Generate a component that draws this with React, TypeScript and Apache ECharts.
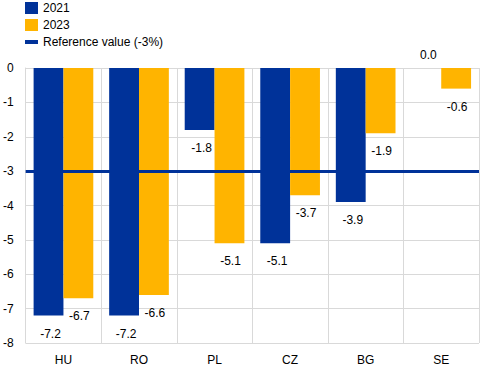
import React, { useEffect, useRef } from "react";
import * as echarts from "echarts";

const categories = ["HU", "RO", "PL", "CZ", "BG", "SE"];
const values2021 = [-7.2, -7.2, -1.8, -5.1, -3.9, 0.0];
const values2023 = [-6.7, -6.6, -5.1, -3.7, -1.9, -0.6];
const referenceValue = -3;
const yTicks = [0, -1, -2, -3, -4, -5, -6, -7, -8];

const BLUE = "#003299";
const YELLOW = "#FFB400";

function barData(vals: number[], dx: number) {
  return vals.map((v) => ({
    value: v,
    label: {
      position: v < 0 ? "bottom" : "top",
      distance: v < 0 ? 12 : 7,
      offset: [dx, 0],
    },
  }));
}

export default function App() {
  const ref = useRef<HTMLDivElement>(null);
  useEffect(() => {
    if (!ref.current) return;
    const chart = echarts.init(ref.current, null, { renderer: "svg" });
    const font = "Liberation Sans, Arial, sans-serif";
    chart.setOption({
      animation: false,
      textStyle: { fontFamily: font },
      legend: {
        orient: "vertical",
        left: 25,
        top: 2,
        padding: 0,
        itemWidth: 13,
        itemHeight: 12,
        itemGap: 5,
        textStyle: { fontSize: 12, color: "#000", fontFamily: font },
        data: [
          { name: "2021", icon: "rect" },
          { name: "2023", icon: "rect" },
          { name: "Reference value (-3%)", icon: "path://M0,0 L13,0 L13,4 L0,4 Z" },
        ],
      },
      grid: { left: 24, right: 11, top: 68, bottom: 28, containLabel: false },
      xAxis: {
        type: "category",
        data: categories,
        boundaryGap: true,
        axisLine: { show: true, lineStyle: { color: "#d9d9d9", width: 1 } },
        axisTick: { show: false },
        axisLabel: { color: "#000", fontSize: 12, margin: 11, fontFamily: font },
        splitLine: { show: true, lineStyle: { color: "#d9d9d9", width: 1 } },
      },
      yAxis: {
        type: "value",
        min: -8,
        max: 0,
        interval: 1,
        axisLine: { show: true, lineStyle: { color: "#d9d9d9" } },
        axisTick: { show: false },
        axisLabel: {
          color: "#000",
          fontSize: 12,
          margin: 12,
          fontFamily: font,
          formatter: (v: number) => (yTicks.includes(v) ? String(v) : ""),
        },
        splitLine: { show: true, lineStyle: { color: "#d9d9d9", width: 1 } },
      },
      series: [
        {
          name: "2021",
          type: "bar",
          data: barData(values2021, 2),
          itemStyle: { color: BLUE },
          barGap: "0%",
          barCategoryGap: "21%",
          label: {
            show: true,
            color: "#000",
            fontSize: 12,
            fontFamily: font,
            formatter: (p: any) => Number(p.value).toFixed(1),
          },
        },
        {
          name: "2023",
          type: "bar",
          data: barData(values2023, 1),
          itemStyle: { color: YELLOW },
          barGap: "0%",
          barCategoryGap: "21%",
          label: {
            show: true,
            color: "#000",
            fontSize: 12,
            fontFamily: font,
            formatter: (p: any) => Number(p.value).toFixed(1),
          },
        },
        {
          name: "Reference value (-3%)",
          type: "line",
          data: [],
          itemStyle: { color: BLUE },
          lineStyle: { color: BLUE, width: 3 },
          markLine: {
            silent: true,
            symbol: "none",
            label: { show: false },
            lineStyle: { color: BLUE, width: 3, type: "solid" },
            data: [{ yAxis: referenceValue }],
          },
          z: 5,
        },
      ],
    });
    return () => chart.dispose();
  }, []);
  return <div ref={ref} style={{ width: 490, height: 371, position: "absolute", left: 0, top: 0 }} />;
}
